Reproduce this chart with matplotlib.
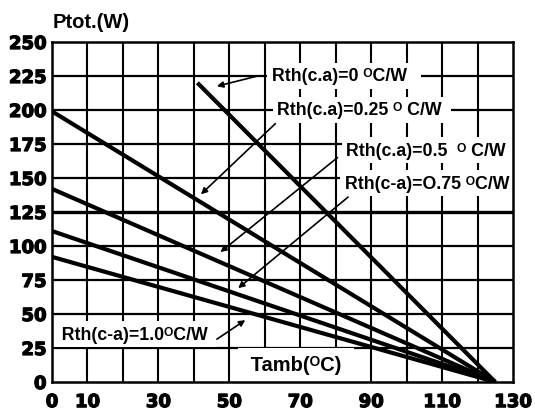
import matplotlib
matplotlib.use("Agg")
import matplotlib.pyplot as plt
import matplotlib.patheffects as pe

# ---- data ----
series_names = ["Rth(c.a)=0", "Rth(c.a)=0.25", "Rth(c.a)=0.5", "Rth(c-a)=0.75", "Rth(c-a)=1.0"]
t_start = [41, 0, 0, 0, 0]          # Tamb (°C) where each line starts
p_start = [220, 199, 142, 111, 92]  # Ptot (W) at start
t_end = [125, 125, 125, 125, 125]
p_end = [0, 0, 0, 0, 0]

x_ticks = [0, 10, 30, 50, 70, 90, 110, 130]
y_ticks = [0, 25, 50, 75, 100, 125, 150, 175, 200, 225, 250]

label_texts = ["Rth(c.a)=0 \u1D3CC/W  ",
               "Rth(c.a)=0.25 \u1D3C C/W ",
               "Rth(c.a)=0.5  \u1D3C C/W  ",
               "Rth(c-a)=O.75 \u1D3CC/W   ",
               "  Rth(c-a)=1.0\u1D3CC/W "]
label_pos = [(62, 225), (63.5, 200), (83, 170.5), (82.5, 146), (0, 35)]
arrow_tail = [(58, 225), (63, 190), (80.5, 165), (83.5, 136), (46.5, 31.5)]
arrow_head = [(46.5, 217.5), (42, 138), (47.5, 95.5), (52.5, 69), (54.5, 45.5)]

fig = plt.figure(figsize=(5.35, 4.14), dpi=100)
ax = fig.add_axes([52/535, 1-383/414, (513-52)/535, (383-43)/414])
ax.set_xlim(0, 130)
ax.set_ylim(0, 250)

# grid
for xv in range(10, 130, 10):
    ax.axvline(xv, color="black", lw=1.5, zorder=1)
for yv in y_ticks[1:-1]:
    ax.axhline(yv, color="black", lw=2.4 if yv == 125 else 1.6, zorder=1)

for s in ax.spines.values():
    s.set_linewidth(1.8)

# lines
for i in range(len(series_names)):
    ax.plot([t_start[i], t_end[i]], [p_start[i], p_end[i]], color="black",
            lw=3.0, solid_capstyle="butt", zorder=4)

lab_font = dict(family=["Liberation Sans", "DejaVu Sans"], weight="bold", size=12.8)
for txt, (x, y) in zip(label_texts, label_pos):
    ax.text(x, y, txt, ha="left", va="center", zorder=2, **lab_font,
            bbox=dict(facecolor="white", edgecolor="none", boxstyle="square,pad=0.25"))

for (tx, ty), (hx, hy) in zip(arrow_tail, arrow_head):
    ax.annotate("", xy=(hx, hy), xytext=(tx, ty),
                arrowprops=dict(arrowstyle="-|>", color="black", lw=1.2,
                                mutation_scale=9, shrinkA=0, shrinkB=0), zorder=5)

ax.text(54.5, 12.5, " Tamb(\u1D3CC) ", ha="left", va="center", zorder=2,
        family=["Liberation Sans", "DejaVu Sans"], weight="bold", size=14.5,
        bbox=dict(facecolor="white", edgecolor="none", boxstyle="square,pad=0.35"))

fig.text(53/535, 1-22/414, "Ptot.(W)", ha="left", va="center",
         family="Liberation Sans", weight="bold", size=14.5)

ax.set_xticks(x_ticks)
ax.set_yticks(y_ticks)
ax.set_xticklabels([str(v) for v in x_ticks])
ax.set_yticklabels([str(v) for v in y_ticks])
ax.tick_params(axis="x", length=0, pad=8)
ax.tick_params(axis="y", length=0, pad=4)
for lab in ax.get_xticklabels() + ax.get_yticklabels():
    lab.set_fontfamily("DejaVu Sans")
    lab.set_fontweight("bold")
    lab.set_fontsize(13)
    lab.set_path_effects([pe.withStroke(linewidth=0.9, foreground="black")])

fig.savefig("out.png", dpi=100, facecolor="white")
